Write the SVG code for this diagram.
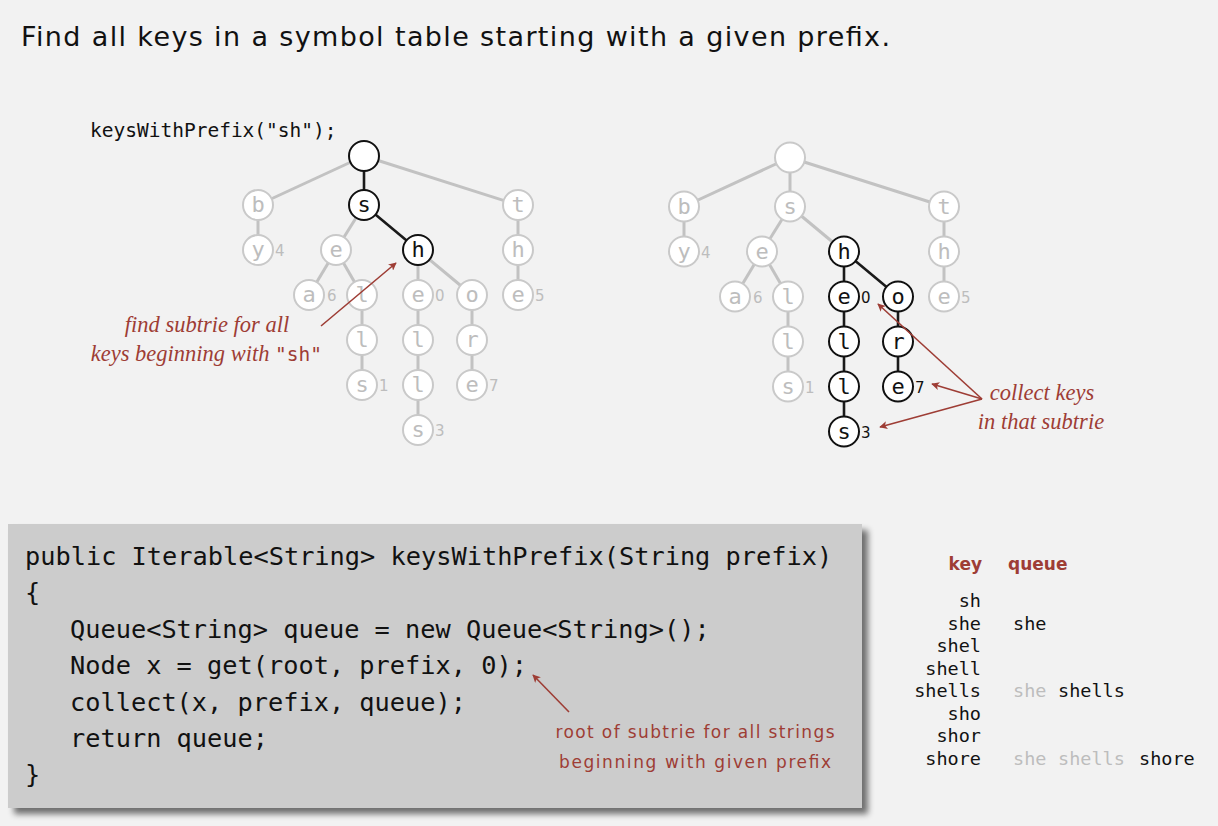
<svg xmlns="http://www.w3.org/2000/svg" width="1218" height="826" viewBox="0 0 1218 826">
<defs>
<style>
.title{font-family:"DejaVu Sans","Liberation Sans",sans-serif;font-size:27px;fill:#111}
.mono{font-family:"DejaVu Sans Mono","Liberation Mono",monospace}
.code{font-family:"DejaVu Sans Mono","Liberation Mono",monospace;font-size:25.3px;fill:#111}
.ng circle{fill:#fff;stroke:#c9c9c9;stroke-width:2}
.ng text{font-family:"DejaVu Sans Mono",monospace;font-size:22px;fill:#bdbdbd;text-anchor:middle}
.nd circle{fill:#fff;stroke:#111;stroke-width:2}
.nd text{font-family:"DejaVu Sans Mono",monospace;font-size:22px;fill:#111;text-anchor:middle}
.num{font-family:"DejaVu Sans",sans-serif;font-size:15px;fill:#bdbdbd}
.numd{font-family:"DejaVu Sans",sans-serif;font-size:15px;fill:#111}
.eg{stroke:#c2c2c2;stroke-width:3}
.ed{stroke:#1a1a1a;stroke-width:2.6}
.ann{font-family:"DejaVu Sans","Liberation Sans",sans-serif;font-size:17px;fill:#9e3d35;text-anchor:middle}
.ital{font-family:"Liberation Serif","DejaVu Serif",serif;font-style:italic;font-size:22.5px;fill:#9e3d35}
.arr{stroke:#9e3d35;stroke-width:1.6;fill:none;marker-end:url(#ah)}
.tbl{font-family:"DejaVu Sans Mono",monospace;font-size:18.5px;fill:#111}
.hdr{font-family:"DejaVu Sans",sans-serif;font-size:17px;font-weight:bold;fill:#9e3d35}
</style>
<marker id="ah" viewBox="0 0 10 10" refX="9" refY="5" markerWidth="8" markerHeight="8" markerUnits="userSpaceOnUse" orient="auto">
<path d="M0,0 L10,5 L0,10 L2.5,5 Z" fill="#9e3d35"/>
</marker>
<filter id="sh" x="-5%" y="-5%" width="115%" height="115%">
<feGaussianBlur in="SourceAlpha" stdDeviation="3"/>
<feOffset dx="6" dy="6" result="b"/>
<feComponentTransfer><feFuncA type="linear" slope="0.55"/></feComponentTransfer>
<feMerge><feMergeNode/><feMergeNode in="SourceGraphic"/></feMerge>
</filter>
</defs>
<rect width="1218" height="826" fill="#f2f2f2"/>
<text class="title" x="21" y="46" textLength="869">Find all keys in a symbol table starting with a given prefix.</text>
<text class="mono" x="90" y="137" font-size="19.5" fill="#111">keysWithPrefix("sh");</text>

<!-- LEFT TREE -->
<g id="left-tree">
<g id="left-connectors">
<line class="eg" x1="364" y1="156" x2="258" y2="205"/>
<line class="eg" x1="364" y1="156" x2="518" y2="205"/>
<line class="ed" x1="364" y1="156" x2="364" y2="205"/>
<line class="eg" x1="258" y1="205" x2="258" y2="250"/>
<line class="eg" x1="364" y1="205" x2="336" y2="250"/>
<line class="ed" x1="364" y1="205" x2="418" y2="250"/>
<line class="eg" x1="518" y1="205" x2="518" y2="295"/>
<line class="eg" x1="336" y1="250" x2="309" y2="295"/>
<line class="eg" x1="336" y1="250" x2="362" y2="295"/>
<line class="eg" x1="418" y1="250" x2="418" y2="430"/>
<line class="eg" x1="418" y1="250" x2="472" y2="295"/>
<line class="eg" x1="362" y1="295" x2="362" y2="385"/>
<line class="eg" x1="472" y1="295" x2="472" y2="385"/>
</g>
<g id="L-root" class="nd"><circle cx="364" cy="156" r="15"/></g>
<g id="L-b" class="ng"><circle cx="258" cy="205" r="15"/><text x="258" y="212">b</text></g>
<g id="L-s" class="nd"><circle cx="364" cy="205" r="15"/><text x="364" y="212">s</text></g>
<g id="L-t" class="ng"><circle cx="518" cy="205" r="15"/><text x="518" y="212">t</text></g>
<g id="L-by" class="ng"><circle cx="258" cy="250" r="15"/><text x="258" y="257">y</text></g>
<g id="L-se" class="ng"><circle cx="336" cy="250" r="15"/><text x="336" y="257">e</text></g>
<g id="L-sh" class="nd"><circle cx="418" cy="250" r="15"/><text x="418" y="257">h</text></g>
<g id="L-th" class="ng"><circle cx="518" cy="250" r="15"/><text x="518" y="257">h</text></g>
<g id="L-sea" class="ng"><circle cx="309" cy="295" r="15"/><text x="309" y="302">a</text></g>
<g id="L-sel" class="ng"><circle cx="362" cy="295" r="15"/><text x="362" y="302">l</text></g>
<g id="L-she" class="ng"><circle cx="418" cy="295" r="15"/><text x="418" y="302">e</text></g>
<g id="L-sho" class="ng"><circle cx="472" cy="295" r="15"/><text x="472" y="302">o</text></g>
<g id="L-the" class="ng"><circle cx="518" cy="295" r="15"/><text x="518" y="302">e</text></g>
<g id="L-sell" class="ng"><circle cx="362" cy="340" r="15"/><text x="362" y="347">l</text></g>
<g id="L-shel" class="ng"><circle cx="418" cy="340" r="15"/><text x="418" y="347">l</text></g>
<g id="L-shor" class="ng"><circle cx="472" cy="340" r="15"/><text x="472" y="347">r</text></g>
<g id="L-sells" class="ng"><circle cx="362" cy="385" r="15"/><text x="362" y="392">s</text></g>
<g id="L-shell" class="ng"><circle cx="418" cy="385" r="15"/><text x="418" y="392">l</text></g>
<g id="L-shore" class="ng"><circle cx="472" cy="385" r="15"/><text x="472" y="392">e</text></g>
<g id="L-shells" class="ng"><circle cx="418" cy="430" r="15"/><text x="418" y="437">s</text></g>
<g id="L-values">
<text class="num" x="275" y="256">4</text>
<text class="num" x="327" y="301">6</text>
<text class="num" x="435" y="301">0</text>
<text class="num" x="535" y="301">5</text>
<text class="num" x="379" y="391">1</text>
<text class="num" x="489" y="391">7</text>
<text class="num" x="435" y="436">3</text>
</g>
</g>

<!-- RIGHT TREE -->
<g id="right-tree" transform="translate(426,1.5)">
<g id="right-connectors">
<line class="eg" x1="364" y1="156" x2="258" y2="205"/>
<line class="eg" x1="364" y1="156" x2="518" y2="205"/>
<line class="eg" x1="364" y1="156" x2="364" y2="205"/>
<line class="eg" x1="258" y1="205" x2="258" y2="250"/>
<line class="eg" x1="364" y1="205" x2="336" y2="250"/>
<line class="eg" x1="364" y1="205" x2="418" y2="250"/>
<line class="eg" x1="518" y1="205" x2="518" y2="295"/>
<line class="eg" x1="336" y1="250" x2="309" y2="295"/>
<line class="eg" x1="336" y1="250" x2="362" y2="295"/>
<line class="ed" x1="418" y1="250" x2="418" y2="430"/>
<line class="ed" x1="418" y1="250" x2="472" y2="295"/>
<line class="eg" x1="362" y1="295" x2="362" y2="385"/>
<line class="ed" x1="472" y1="295" x2="472" y2="385"/>
</g>
<g id="R-root" class="ng"><circle cx="364" cy="156" r="15"/></g>
<g id="R-b" class="ng"><circle cx="258" cy="205" r="15"/><text x="258" y="212">b</text></g>
<g id="R-s" class="ng"><circle cx="364" cy="205" r="15"/><text x="364" y="212">s</text></g>
<g id="R-t" class="ng"><circle cx="518" cy="205" r="15"/><text x="518" y="212">t</text></g>
<g id="R-by" class="ng"><circle cx="258" cy="250" r="15"/><text x="258" y="257">y</text></g>
<g id="R-se" class="ng"><circle cx="336" cy="250" r="15"/><text x="336" y="257">e</text></g>
<g id="R-sh" class="nd"><circle cx="418" cy="250" r="15"/><text x="418" y="257">h</text></g>
<g id="R-th" class="ng"><circle cx="518" cy="250" r="15"/><text x="518" y="257">h</text></g>
<g id="R-sea" class="ng"><circle cx="309" cy="295" r="15"/><text x="309" y="302">a</text></g>
<g id="R-sel" class="ng"><circle cx="362" cy="295" r="15"/><text x="362" y="302">l</text></g>
<g id="R-she" class="nd"><circle cx="418" cy="295" r="15"/><text x="418" y="302">e</text></g>
<g id="R-sho" class="nd"><circle cx="472" cy="295" r="15"/><text x="472" y="302">o</text></g>
<g id="R-the" class="ng"><circle cx="518" cy="295" r="15"/><text x="518" y="302">e</text></g>
<g id="R-sell" class="ng"><circle cx="362" cy="340" r="15"/><text x="362" y="347">l</text></g>
<g id="R-shel" class="nd"><circle cx="418" cy="340" r="15"/><text x="418" y="347">l</text></g>
<g id="R-shor" class="nd"><circle cx="472" cy="340" r="15"/><text x="472" y="347">r</text></g>
<g id="R-sells" class="ng"><circle cx="362" cy="385" r="15"/><text x="362" y="392">s</text></g>
<g id="R-shell" class="nd"><circle cx="418" cy="385" r="15"/><text x="418" y="392">l</text></g>
<g id="R-shore" class="nd"><circle cx="472" cy="385" r="15"/><text x="472" y="392">e</text></g>
<g id="R-shells" class="nd"><circle cx="418" cy="430" r="15"/><text x="418" y="437">s</text></g>
<g id="R-values">
<text class="num" x="275" y="256">4</text>
<text class="num" x="327" y="301">6</text>
<text class="numd" x="435" y="301">0</text>
<text class="num" x="535" y="301">5</text>
<text class="num" x="379" y="391">1</text>
<text class="numd" x="489" y="391">7</text>
<text class="numd" x="435" y="436">3</text>
</g>
</g>

<!-- annotations -->
<g id="ann-find">
<text class="ital" x="207" y="332" text-anchor="middle">find subtrie for all</text>
<text class="ital" x="322" y="361" text-anchor="end">keys beginning with <tspan class="mono" font-style="normal" font-size="19.5">"sh"</tspan></text>
</g>
<g id="ann-collect">
<text class="ital" x="1042" y="400" text-anchor="middle">collect keys</text>
<text class="ital" x="1041" y="429" text-anchor="middle">in that subtrie</text>
</g>

<!-- code box -->
<g id="code-box">
<rect x="8" y="524" width="854" height="284" fill="#cccccc" filter="url(#sh)"/>
<text class="code" x="25" y="565">public Iterable&lt;String&gt; keysWithPrefix(String prefix)</text>
<text class="code" x="25" y="601">{</text>
<text class="code" x="70" y="638">Queue&lt;String&gt; queue = new Queue&lt;String&gt;();</text>
<text class="code" x="70" y="674">Node x = get(root, prefix, 0);</text>
<text class="code" x="70" y="711">collect(x, prefix, queue);</text>
<text class="code" x="70" y="747">return queue;</text>
<text class="code" x="25" y="783">}</text>
<text class="ann" x="695" y="738" textLength="279">root of subtrie for all strings</text>
<text class="ann" x="695" y="768" textLength="272">beginning with given prefix</text>
</g>

<g id="connectors">
<line class="arr" x1="321" y1="326" x2="396" y2="263"/>
<line class="arr" x1="982" y1="399" x2="878" y2="304"/>
<line class="arr" x1="982" y1="399" x2="932" y2="384"/>
<line class="arr" x1="982" y1="399" x2="880" y2="427"/>
<line class="arr" x1="569" y1="712" x2="533" y2="675"/>
</g>

<!-- table -->
<g id="table">
<text class="hdr" x="982" y="570" text-anchor="end">key</text>
<text class="hdr" x="1008" y="570">queue</text>
<g class="tbl" text-anchor="end">
<text x="981" y="607">sh</text>
<text x="981" y="630">she</text>
<text x="981" y="652">shel</text>
<text x="981" y="675">shell</text>
<text x="981" y="697">shells</text>
<text x="981" y="720">sho</text>
<text x="981" y="742">shor</text>
<text x="981" y="765">shore</text>
</g>
<text class="tbl" x="1013" y="630">she</text>
<text class="tbl" y="697"><tspan x="1013" fill="#bdbdbd">she</tspan><tspan x="1058">shells</tspan></text>
<text class="tbl" y="765"><tspan x="1013" fill="#bdbdbd">she</tspan><tspan x="1058" fill="#bdbdbd">shells</tspan><tspan x="1139">shore</tspan></text>
</g>
</svg>
